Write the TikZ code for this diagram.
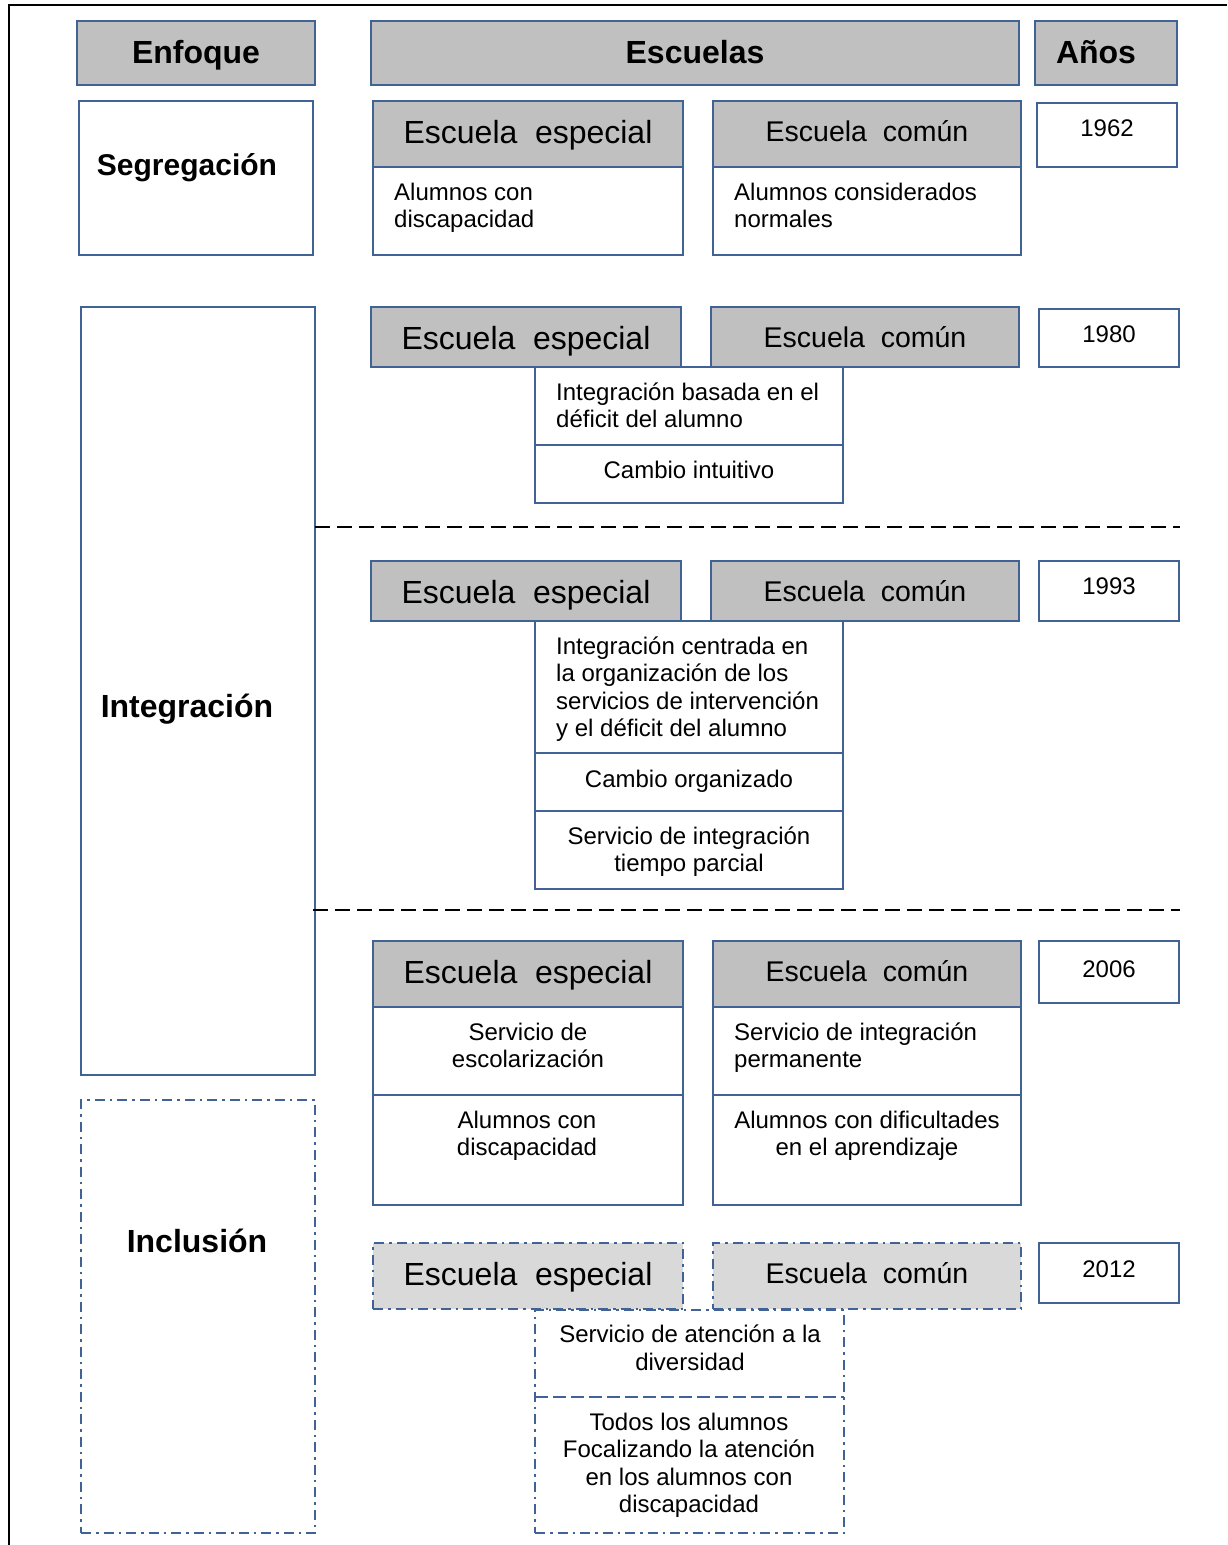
\documentclass[tikz,border=0pt]{standalone}
\usepackage{fontspec}
\setmainfont{Liberation Sans}
\usetikzlibrary{fit}
\definecolor{bblue}{RGB}{64,98,148}
\definecolor{hgray}{RGB}{192,192,192}
\definecolor{lgray}{RGB}{217,217,217}
\newcommand\wgap{\hspace{0.55em}}
\begin{document}
\begin{tikzpicture}[x=1pt,y=-1pt,
  frame/.style={draw=bblue,line width=2.4pt,inner sep=0pt,outer sep=0pt},
  plain/.style={frame,fill=white},
  shade/.style={frame,fill=hgray},
  soft/.style={frame,dash pattern=on 10pt off 5pt on 2.5pt off 5pt},
  softshade/.style={soft,fill=lgray},
  area/.style={inner sep=0pt,outer sep=0pt},
  % single-line labels: node centre sits on the middle of the capitals
  body/.style={font=\fontsize{24}{27.5}\selectfont,inner sep=0pt,text height=17pt,text depth=0pt},
  head/.style={font=\fontsize{32}{36}\selectfont\bfseries,inner sep=0pt,text height=23pt,text depth=0pt},
  especial/.style={font=\fontsize{32}{36}\selectfont,inner sep=0pt,text height=23pt,text depth=0pt},
  comun/.style={font=\fontsize{28.5}{33}\selectfont,inner sep=0pt,text height=20.4pt,text depth=0pt},
  % multi-line labels, strut-balanced
  multi/.style={font=\fontsize{24}{27.5}\selectfont,inner sep=0pt,
    execute at begin node=\strut,execute at end node=\strut},
  divider/.style={draw=black,line width=2pt,dash pattern=on 15pt off 7pt},
  seam/.style={draw=bblue,line width=2.4pt,dash pattern=on 13pt off 5pt}]
\useasboundingbox (0,0) rectangle (1227,1545);

% page frame (top and left edges only)
\draw[black,line width=2.2pt] (9,1545) -- (9,5) -- (1227,5);

% column headers
\node[shade,fit={(77,21)(315,85)}] (hEnf) {};
\node[shade,fit={(371,21)(1019,85)}] (hEsc) {};
\node[shade,fit={(1035,21)(1177,85)}] (hAno) {};
\node[head] at (196,52) {Enfoque};
\node[head] at (695,52) {Escuelas};
\node[head] at (1096,52) {Años};

% approaches
\node[plain,fit={(79,101)(313,255)}] (seg) {};
\node[head,font=\fontsize{30}{34}\selectfont\bfseries,text height=21.5pt] at (187,165) {Segregación};
\node[plain,fit={(81,307)(315,1075)}] (int) {};
\node[head] at (187,706) {Integración};
\node[soft,fit={(81,1100)(315,1533)}] (inc) {};
\node[head] at (197,1241) {Inclusión};

% ---- 1962
\node[shade,fit={(373,101)(683,167)}] (e1) {};
\node[plain,fit={(373,167)(683,255)}] (e1b) {};
\node[shade,fit={(713,101)(1021,167)}] (c1) {};
\node[plain,fit={(713,167)(1021,255)}] (c1b) {};
\node[plain,fit={(1037,103)(1177,167)}] (y1) {};
\node[especial] at (528,132) {Escuela\wgap especial};
\node[comun] at (867,131) {Escuela\wgap común};
\node[multi,align=left,anchor=west] at (394,209.5) {Alumnos con\\discapacidad};
\node[multi,align=left,anchor=west] at (734,209.5) {Alumnos considerados\\normales};
\node[body] at (1107,128) {1962};

% ---- 1980
\node[shade,fit={(371,307)(681,367)}] (e2) {};
\node[shade,fit={(711,307)(1019,367)}] (c2) {};
\node[plain,fit={(1039,309)(1179,367)}] (y2) {};
\node[plain,fit={(535,367)(843,445)}] (s2a) {};
\node[plain,fit={(535,445)(843,503)}] (s2b) {};
\node[especial] at (526,338) {Escuela\wgap especial};
\node[comun] at (865,337) {Escuela\wgap común};
\node[body] at (1109,334) {1980};
\node[multi,align=left,anchor=west] at (556,409.5) {Integración basada en el\\déficit del alumno};
\node[body] at (689,470) {Cambio intuitivo};

\draw[divider] (int.east |- 0,527) -- (1180,527);

% ---- 1993
\node[shade,fit={(371,561)(681,621)}] (e3) {};
\node[shade,fit={(711,561)(1019,621)}] (c3) {};
\node[plain,fit={(1039,561)(1179,621)}] (y3) {};
\node[plain,fit={(535,621)(843,753)}] (s3a) {};
\node[plain,fit={(535,753)(843,811)}] (s3b) {};
\node[plain,fit={(535,811)(843,889)}] (s3c) {};
\node[especial] at (526,592) {Escuela\wgap especial};
\node[comun] at (865,591) {Escuela\wgap común};
\node[body] at (1109,586) {1993};
\node[multi,align=left,anchor=west] at (556,691) {Integración centrada en\\la organización de los\\servicios de intervención\\y el déficit del alumno};
\node[body] at (689,779) {Cambio organizado};
\node[multi,align=center] at (689,853.5) {Servicio de integración\\tiempo parcial};

\draw[divider] (313,910) -- (1180,910);

% ---- 2006
\node[shade,fit={(373,941)(683,1007)}] (e4) {};
\node[plain,fit={(373,1007)(683,1095)}] (e4b) {};
\node[plain,fit={(373,1095)(683,1205)}] (e4c) {};
\node[shade,fit={(713,941)(1021,1007)}] (c4) {};
\node[plain,fit={(713,1007)(1021,1095)}] (c4b) {};
\node[plain,fit={(713,1095)(1021,1205)}] (c4c) {};
\node[plain,fit={(1039,941)(1179,1003)}] (y4) {};
\node[especial] at (528,972) {Escuela\wgap especial};
\node[comun] at (867,971) {Escuela\wgap común};
\node[body] at (1109,969) {2006};
\node[multi,align=center] at (528,1049.5) {Servicio de\\escolarización};
\node[multi,align=center] at (527,1137.5) {Alumnos con\\discapacidad};
\node[multi,align=left,anchor=west] at (734,1049.5) {Servicio de integración\\permanente};
\node[multi,align=center] at (867,1137.5) {Alumnos con dificultades\\en el aprendizaje};

% ---- 2012
\node[softshade,fit={(373,1243)(683,1309)}] (e5) {};
\node[softshade,fit={(713,1243)(1021,1309)}] (c5) {};
\node[plain,fit={(1039,1243)(1179,1303)}] (y5) {};
\node[area,fit={(535,1310)(844,1397)}] (s5a) {};
\node[area,fit={(535,1397)(844,1533)}] (s5b) {};
\node[soft,fit=(s5a)(s5b)] (s5) {};
\draw[seam] (s5a.south west) -- (s5a.south east);
\node[especial] at (528,1274) {Escuela\wgap especial};
\node[comun] at (867,1273) {Escuela\wgap común};
\node[body] at (1109,1269) {2012};
\node[multi,align=center] at (690,1352) {Servicio de atención a la\\diversidad};
\node[multi,align=center] at (689,1467) {Todos los alumnos\\Focalizando la atención\\en los alumnos con\\discapacidad};
\end{tikzpicture}
\end{document}
